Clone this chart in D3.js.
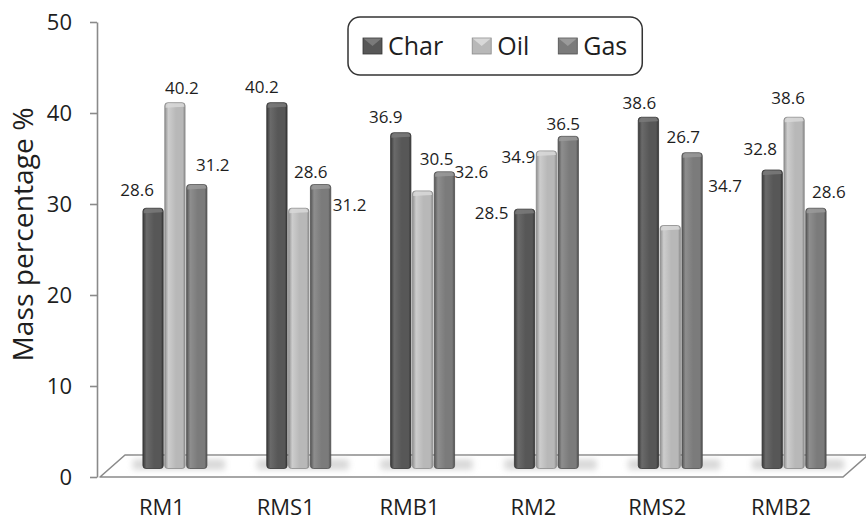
<!DOCTYPE html>
<html>
<head>
<meta charset="utf-8">
<script src="https://cdn.jsdelivr.net/npm/d3@7"></script>
<style>
  body { margin: 0; background: #fff; }
  svg { display: block; }
</style>
</head>
<body>
<svg id="chart" width="866" height="522"></svg>
<script>
// ---- data ----
const categories = ["RM1", "RMS1", "RMB1", "RM2", "RMS2", "RMB2"];
const seriesNames = ["Char", "Oil", "Gas"];
const charValues = [28.6, 40.2, 36.9, 28.5, 38.6, 32.8];
const oilValues  = [40.2, 28.6, 30.5, 34.9, 26.7, 38.6];
const gasValues  = [31.2, 31.2, 32.6, 36.5, 34.7, 28.6];
const yTicks = [0, 10, 20, 30, 40, 50];

// value-label placement, [dx, dy] from the top centre of each bar
const charLabelOffsets = [[-16, -12], [-15, -10], [-15, -10], [-33, 10], [-9, -8], [-12, -15]];
const oilLabelOffsets  = [[7, -9], [12, -30], [14, -26], [-28, 12], [13, -83], [-6, -13]];
const gasLabelOffsets  = [[16, -14], [29, 26], [27, 6], [-5, -6], [33, 39], [13, -10]];

const seriesValues = { Char: charValues, Oil: oilValues, Gas: gasValues };
const seriesOffsets = { Char: charLabelOffsets, Oil: oilLabelOffsets, Gas: gasLabelOffsets };

// shading for each series: [edge, light, mid, dark edge, cap]
const palette = {
  Char: ["#3a3a3a", "#6a6a6a", "#575757", "#353535", "#7a7a7a"],
  Oil:  ["#8f8f8f", "#cdcdcd", "#b8b8b8", "#8a8a8a", "#d8d8d8"],
  Gas:  ["#555555", "#8e8e8e", "#7b7b7b", "#4f4f4f", "#9a9a9a"]
};

const FONT = "'Open Sans', 'DejaVu Sans', sans-serif";
const svg = d3.select("#chart");
const defs = svg.append("defs");

// ---- scales ----
const y = d3.scaleLinear().domain([0, 50]).range([477, 22]);
const x = d3.scaleBand().domain(categories).range([100, 843]);
const xInner = d3.scaleBand().domain(seriesNames).range([-32, 32]).paddingInner(0.07);
const depth = { dx: 13, dy: -8.5 };   // bars stand part-way back on the floor

// gradients
seriesNames.forEach(s => {
  const p = palette[s];
  const g = defs.append("linearGradient").attr("id", "grad-" + s)
    .attr("x1", "0%").attr("x2", "100%").attr("y1", "0%").attr("y2", "0%");
  g.append("stop").attr("offset", "0%").attr("stop-color", p[0]);
  g.append("stop").attr("offset", "18%").attr("stop-color", p[1]);
  g.append("stop").attr("offset", "55%").attr("stop-color", p[2]);
  g.append("stop").attr("offset", "88%").attr("stop-color", p[2]);
  g.append("stop").attr("offset", "100%").attr("stop-color", p[3]);
});
const blur = defs.append("filter").attr("id", "soft").attr("x", "-30%").attr("y", "-100%")
  .attr("width", "160%").attr("height", "300%");
blur.append("feGaussianBlur").attr("stdDeviation", 3);

// ---- floor ----
const floorBack = y(0) - 22, floorSlant = 25;
svg.append("path")
  .attr("d", `M${x.range()[0]},${y(0)} L${x.range()[0] + floorSlant},${floorBack} L${x.range()[1] + floorSlant},${floorBack} L${x.range()[1]},${y(0)} Z`)
  .attr("fill", "#ffffff")
  .attr("stroke", "#8a8a8a")
  .attr("stroke-width", 1.6)
  .attr("stroke-linejoin", "round");

// soft shadows under each group
svg.append("g").selectAll("rect")
  .data(categories)
  .join("rect")
  .attr("x", d => x(d) + x.bandwidth() / 2 + depth.dx + xInner.range()[0] - 10)
  .attr("y", y(0) + depth.dy - 9)
  .attr("width", (xInner.range()[1] - xInner.range()[0]) + 28)
  .attr("height", 10)
  .attr("fill", "#d6d6d6")
  .attr("filter", "url(#soft)");

// ---- y axis ----
const yAxis = d3.axisLeft(y).tickValues(yTicks).tickSize(7).tickSizeOuter(0).tickPadding(18);
const yg = svg.append("g").attr("transform", "translate(97,0)").call(yAxis);
yg.select(".domain").attr("stroke", "#8a8a8a").attr("stroke-width", 1.6);
yg.selectAll(".tick line").attr("stroke", "#8a8a8a").attr("stroke-width", 1.6);
yg.selectAll(".tick text").attr("font-family", FONT).attr("font-size", 22).attr("fill", "#1e1e1e");

svg.append("text")
  .attr("transform", `translate(33,${(y(0) + y(50)) / 2 - 15}) rotate(-90)`)
  .attr("text-anchor", "middle")
  .attr("font-family", FONT)
  .attr("font-size", 27)
  .attr("textLength", 254)
  .attr("lengthAdjust", "spacingAndGlyphs")
  .attr("fill", "#1e1e1e")
  .text("Mass percentage %");

// ---- category labels ----
svg.append("g").selectAll("text")
  .data(categories)
  .join("text")
  .attr("x", d => x(d) + x.bandwidth() / 2)
  .attr("y", 515)
  .attr("text-anchor", "middle")
  .attr("font-family", FONT)
  .attr("font-size", 22)
  .attr("fill", "#1e1e1e")
  .text(d => d);

// ---- bars ----
const bars = [];
categories.forEach((c, i) => {
  seriesNames.forEach(s => {
    bars.push({ cat: c, series: s, value: seriesValues[s][i], off: seriesOffsets[s][i] });
  });
});
const barX = d => x(d.cat) + x.bandwidth() / 2 + depth.dx + xInner(d.series);
const barTop = d => y(d.value) + depth.dy;
const barBase = y(0) + depth.dy;
const bw = xInner.bandwidth();

const bg = svg.append("g").selectAll("g").data(bars).join("g");
bg.append("rect")
  .attr("x", barX)
  .attr("y", barTop)
  .attr("width", bw)
  .attr("height", d => barBase - barTop(d))
  .attr("rx", 3)
  .attr("fill", d => `url(#grad-${d.series})`)
  .attr("stroke", d => palette[d.series][3])
  .attr("stroke-width", 0.8);
// top cap
bg.append("path")
  .attr("d", d => {
    const x0 = barX(d), t = barTop(d);
    return `M${x0 + 0.8},${t + 5} L${x0 + 0.8},${t + 3} Q${x0 + 1},${t + 0.5} ${x0 + 4},${t + 0.5} L${x0 + bw - 3},${t + 0.5} Q${x0 + bw - 0.8},${t + 0.5} ${x0 + bw - 0.8},${t + 3} L${x0 + bw - 0.8},${t + 4} Z`;
  })
  .attr("fill", d => palette[d.series][4])
  .attr("opacity", 0.85);

// ---- value labels ----
svg.append("g").selectAll("text")
  .data(bars)
  .join("text")
  .attr("x", d => barX(d) + bw / 2 + d.off[0])
  .attr("y", d => barTop(d) + d.off[1])
  .attr("text-anchor", "middle")
  .attr("font-family", FONT)
  .attr("font-size", 17)
  .attr("fill", "#1e1e1e")
  .text(d => d.value.toFixed(1));

// ---- legend ----
const legend = svg.append("g");
const box = legend.append("rect")
  .attr("y", 17).attr("height", 58).attr("x", 348)
  .attr("rx", 12)
  .attr("fill", "#fff").attr("stroke", "#333").attr("stroke-width", 1.5);
let lx = 363;
seriesNames.forEach(s => {
  const p = palette[s];
  const it = legend.append("g").attr("transform", `translate(${lx},38)`);
  it.append("rect").attr("width", 19).attr("height", 16).attr("fill", p[2]).attr("stroke", p[3]).attr("stroke-width", 0.8);
  it.append("path").attr("d", "M0.5,0.5 L9.5,8 L18.5,0.5 Z").attr("fill", p[4]);
  const t = it.append("text")
    .attr("x", 25).attr("y", 17)
    .attr("font-family", FONT).attr("font-size", 25).attr("fill", "#1e1e1e")
    .text(s);
  const w = t.node().getComputedTextLength();
  lx += 25 + w + 29;
});
box.attr("width", lx - 29 + 15 - 348);
</script>
</body>
</html>
